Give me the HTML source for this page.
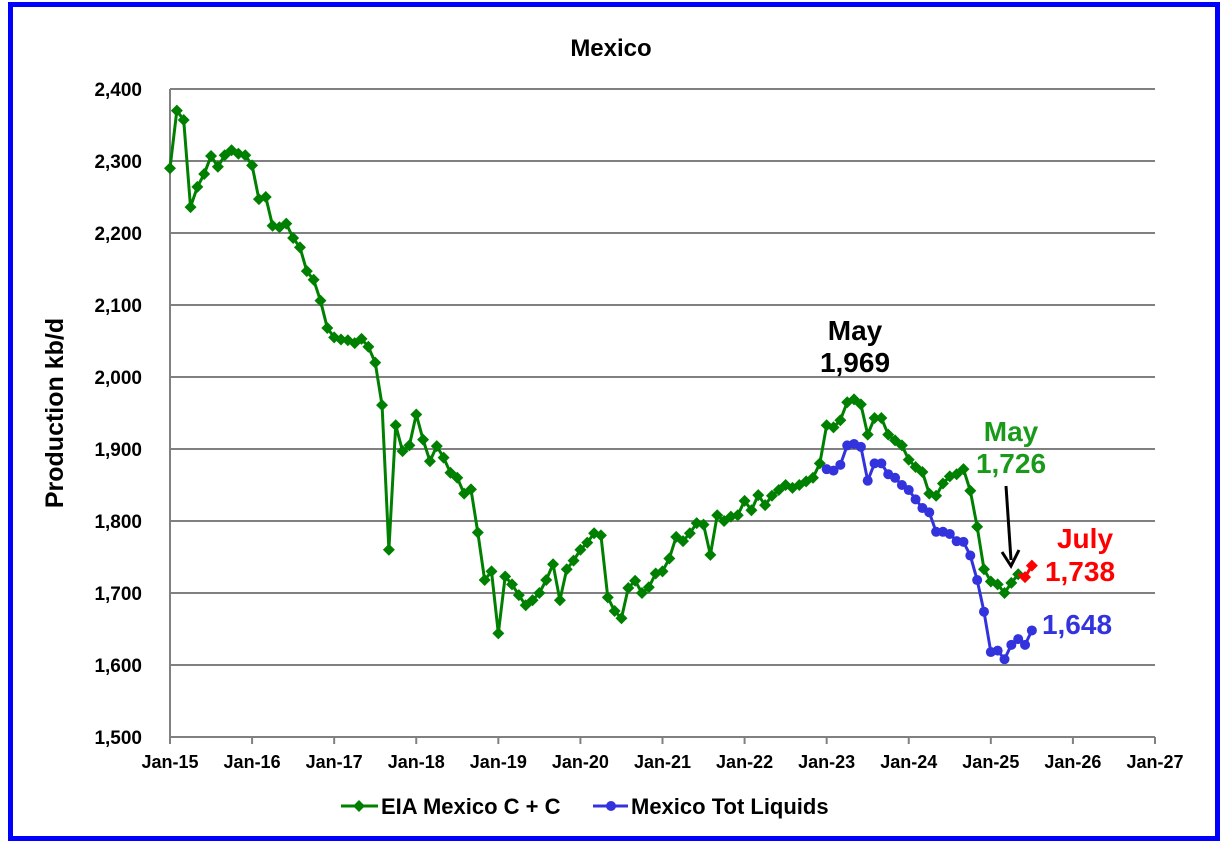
<!DOCTYPE html>
<html><head><meta charset="utf-8"><style>
body{margin:0;background:#fff;}
svg text{font-family:"Liberation Sans",Arial,sans-serif;font-weight:bold;}
</style></head><body>
<svg id="chart" width="1226" height="852" xmlns="http://www.w3.org/2000/svg">
<rect x="10.5" y="4.5" width="1207" height="834" fill="#fff" stroke="#0000ff" stroke-width="5"/>
<text x="611" y="56" font-size="24" text-anchor="middle">Mexico</text>
<text transform="translate(63,413) rotate(-90)" font-size="25" text-anchor="middle">Production kb/d</text>
<g id="grid"></g><g id="axes"></g><g id="series"></g>
<text x="855" y="340" font-size="28" text-anchor="middle">May</text>
<text x="855" y="372" font-size="28" text-anchor="middle">1,969</text>
<text x="1011" y="441" font-size="28" text-anchor="middle" fill="#1a9a1a">May</text>
<text x="1011" y="473" font-size="28" text-anchor="middle" fill="#1a9a1a">1,726</text>
<line x1="1006" y1="486" x2="1011" y2="560" stroke="#000" stroke-width="3"/>
<polyline points="1002,552 1011,566 1019,550" fill="none" stroke="#000" stroke-width="3"/>
<text x="1085" y="548" font-size="28" text-anchor="middle" fill="#ff0000">July</text>
<text x="1080" y="581" font-size="28" text-anchor="middle" fill="#ff0000">1,738</text>
<text x="1077" y="634" font-size="28" text-anchor="middle" fill="#3333dd">1,648</text>
<g>
<line x1="341" y1="806" x2="378" y2="806" stroke="#008000" stroke-width="3"/>
<path d="M359 800 L365 806 L359 812 L353 806Z" fill="#008000"/>
<text x="381" y="814" font-size="22">EIA Mexico C + C</text>
<line x1="593" y1="806" x2="628" y2="806" stroke="#3333dd" stroke-width="3"/>
<circle cx="611" cy="806" r="5" fill="#3333dd"/>
<text x="631" y="814" font-size="22">Mexico Tot Liquids</text>
</g>
</svg>
<script>
const greenValues=[2290,2370,2357,2236,2264,2282,2307,2292,2308,2315,2310,2308,
2294,2247,2250,2210,2208,2213,2193,2180,2147,2135,2106,2068,
2055,2052,2051,2047,2053,2042,2020,1961,1760,1933,1897,1905,
1948,1913,1883,1904,1888,1867,1860,1838,1844,1784,1718,1730,
1644,1723,1712,1697,1683,1690,1700,1718,1740,1690,1733,1745,
1760,1770,1783,1780,1694,1675,1665,1707,1717,1700,1708,1727,
1730,1748,1778,1772,1783,1797,1795,1753,1808,1800,1806,1808,
1828,1815,1836,1822,1835,1843,1850,1846,1850,1855,1860,1880,
1933,1930,1940,1965,1969,1962,1920,1943,1943,1920,1912,1905,
1885,1875,1868,1838,1835,1852,1862,1865,1872,1842,1792,1733,
1716,1712,1700,1714,1726];
const redStart=125;
const redValues=[1722,1738];
const blueStart=96;
const blueValues=[1872,1870,1878,1905,1907,1903,1856,1880,1880,1865,1860,1850,
1843,1830,1818,1812,1785,1785,1782,1772,1771,1752,1718,
1674,1618,1620,1608,1628,1636,1628,1648];
const yTicks=[1500,1600,1700,1800,1900,2000,2100,2200,2300,2400];
const xTickLabels=["Jan-15","Jan-16","Jan-17","Jan-18","Jan-19","Jan-20","Jan-21","Jan-22","Jan-23","Jan-24","Jan-25","Jan-26","Jan-27"];

const L=170,R=1155,T=89,B=737;
const x=m=>L+(R-L)*m/144;
const y=v=>B-(B-T)*(v-1500)/900;
const NS="http://www.w3.org/2000/svg";
function mk(tag,attrs,parent){const e=document.createElementNS(NS,tag);for(const k in attrs)e.setAttribute(k,attrs[k]);parent.appendChild(e);return e;}
const grid=document.getElementById('grid'),axes=document.getElementById('axes'),ser=document.getElementById('series');
yTicks.forEach(v=>{
  const l=mk('line',{x1:L,x2:R,y1:y(v),y2:y(v),stroke:'#808080','stroke-width':2},grid);
  
  
  const t=mk('text',{x:L-28,y:y(v)+7,'font-size':19,'text-anchor':'end'},axes);
  t.textContent=v.toLocaleString('en-US');
  
  
});
const ax=mk('line',{x1:L,x2:L,y1:T,y2:B,stroke:'#808080','stroke-width':2},axes);


xTickLabels.forEach((s,i)=>{
  const tk=mk('line',{x1:x(i*12),x2:x(i*12),y1:B,y2:B+7,stroke:'#808080','stroke-width':2},axes);
  
  
  const t=mk('text',{x:x(i*12),y:768,'font-size':18,'text-anchor':'middle'},axes);
  t.textContent=s;
  
  
});
function line(vals,start,color,name){
  const p=mk('polyline',{points:vals.map((v,i)=>x(start+i)+','+y(v)).join(' '),fill:'none',stroke:color,'stroke-width':3},ser);
  
  
}
function diamonds(vals,start,color,name){
  vals.forEach((v,i)=>{const cx=x(start+i),cy=y(v);
    const d=mk('path',{d:`M${cx} ${cy-6}L${cx+6} ${cy}L${cx} ${cy+6}L${cx-6} ${cy}Z`,fill:color},ser);
    
    });
}
line(greenValues,0,'#008000','eia-line');
diamonds(greenValues,0,'#008000','eia-point');
line([greenValues[greenValues.length-1]].concat(redValues),redStart-1,'#ff0000','eia-forecast-line');
diamonds(redValues,redStart,'#ff0000','eia-forecast-point');
line(blueValues,blueStart,'#3333dd','liquids-line');
blueValues.forEach((v,i)=>{
  const c=mk('circle',{cx:x(blueStart+i),cy:y(v),r:5,fill:'#3333dd'},ser);
  
  
});
</script>
</body></html>
